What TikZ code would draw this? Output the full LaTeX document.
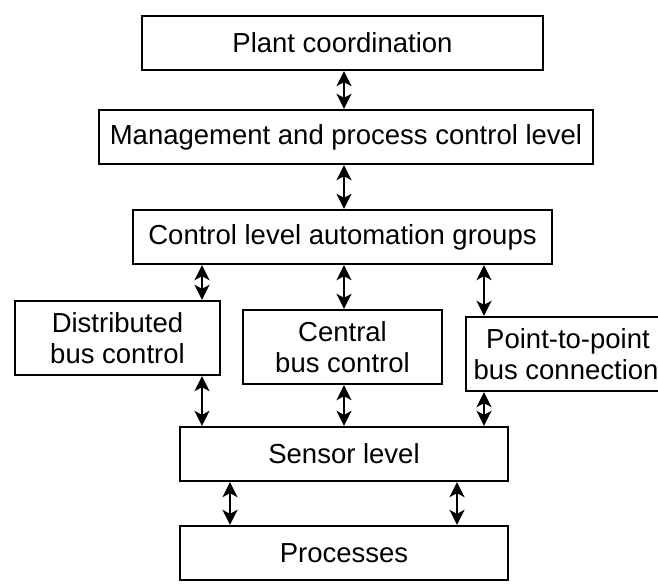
\documentclass[tikz,border=0pt]{standalone}
\usepackage{fontspec}
\setmainfont{Liberation Sans}
\usepackage{tikz}
\usetikzlibrary{arrows.meta, positioning, calc}

\begin{document}
\begin{tikzpicture}[
        x=1pt, y=-1pt,
        box/.style={rectangle, draw, line width=2.3pt, minimum height=54pt, inner sep=0pt, align=center, font=\fontsize{27.5}{31}\selectfont},
        busbox/.style={box, minimum width=201pt, minimum height=74pt}, % two-line boxes
        arrow/.style={{Stealth[length=15pt, width=15pt, inset=4pt]}-{Stealth[length=15pt, width=15pt, inset=4pt]}, line width=2.3pt}
    ]
    \useasboundingbox (0,0) rectangle (658,585);

    % Levels - top to bottom
    \node[box, minimum width=401pt] (plant) at (342.5,43) {Plant coordination};
    \node[box, minimum width=494pt] (mgmt) at (346,137) {Management and process control level};
    \node[box, minimum width=419pt] (ctrl) at (342.5,237) {Control level automation groups};

    % Bus variants side by side
    \node[busbox, minimum width=205pt] (dist_bus) at (117.5,338) {Distributed\\ bus control};
    \node[busbox, minimum width=199pt] (central_bus) at (342.5,347) {Central\\ bus control};
    \node[busbox, minimum width=204pt] (p2p_bus) at (568,354) {Point-to-point\\ \hspace*{-4pt}bus connection}; % right side runs off the edge

    \node[box, minimum width=328pt] (sensor) at (344,454) {Sensor level};
    \node[box, minimum width=328pt] (processes) at (344,553) {Processes};

    % Columns for the arrows that are not centred
    \coordinate (col_dist) at (202,0);
    \coordinate (col_central) at (344,0);
    \coordinate (col_p2p) at (484,0);
    \coordinate (col_left) at (230,0);
    \coordinate (col_right) at (457,0);

    % Connections - main column
    \draw[arrow] (plant.south -| col_central) -- (mgmt.north -| col_central);
    \draw[arrow] (mgmt.south -| col_central) -- (ctrl.north -| col_central);

    % Control level to the buses
    \draw[arrow] (ctrl.south -| col_dist) -- (dist_bus.north -| col_dist);
    \draw[arrow] (ctrl.south -| col_central) -- (central_bus.north -| col_central);
    \draw[arrow] (ctrl.south -| col_p2p) -- (p2p_bus.north -| col_p2p);

    % Buses to the sensor level
    \draw[arrow] (dist_bus.south -| col_dist) -- (sensor.north -| col_dist);
    \draw[arrow] (central_bus.south -| col_central) -- (sensor.north -| col_central);
    \draw[arrow] (p2p_bus.south -| col_p2p) -- (sensor.north -| col_p2p);

    % Sensor level to the processes
    \draw[arrow] (sensor.south -| col_left) -- (processes.north -| col_left);
    \draw[arrow] (sensor.south -| col_right) -- (processes.north -| col_right);

\end{tikzpicture}
\end{document}
